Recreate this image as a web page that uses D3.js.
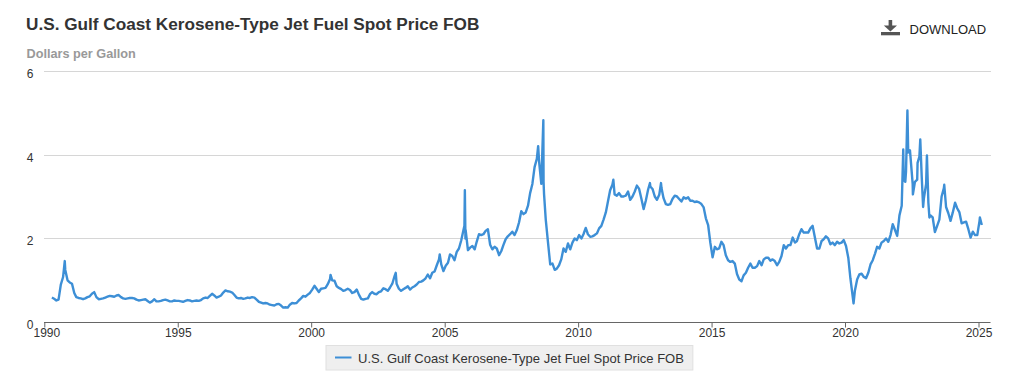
<!DOCTYPE html>
<html>
<head>
<meta charset="utf-8">
<script src="https://cdn.jsdelivr.net/npm/d3@7"></script>
<style>
  body { margin: 0; background: #fff; }
  svg { display: block; font-family: "Liberation Sans", Arial, Helvetica, sans-serif; }
</style>
</head>
<body>
<div id="chart"></div>
<script>
// monthly spot prices ($/gal), mid-month, starting April 1990
var firstMonth = "1990-04";
var monthlyPrices = [
  0.59, 0.56, 0.52, 0.54, 0.90, 1.08, 1.25, 1.00, 0.95,                 // 1990
  0.92, 0.70, 0.60, 0.58, 0.57, 0.55, 0.57, 0.60, 0.62, 0.68, 0.72, 0.60, // 1991
  0.55, 0.56, 0.57, 0.59, 0.61, 0.63, 0.62, 0.61, 0.64, 0.65, 0.60, 0.57, // 1992
  0.56, 0.57, 0.58, 0.58, 0.57, 0.54, 0.52, 0.53, 0.54, 0.55, 0.51, 0.47, // 1993
  0.50, 0.55, 0.50, 0.50, 0.51, 0.53, 0.54, 0.52, 0.50, 0.50, 0.52, 0.51, // 1994
  0.51, 0.50, 0.49, 0.51, 0.53, 0.52, 0.50, 0.51, 0.52, 0.51, 0.53, 0.57, // 1995
  0.59, 0.58, 0.63, 0.68, 0.64, 0.59, 0.61, 0.64, 0.71, 0.76, 0.74, 0.73, // 1996
  0.71, 0.65, 0.59, 0.57, 0.58, 0.56, 0.57, 0.59, 0.58, 0.60, 0.59, 0.54, // 1997
  0.49, 0.47, 0.45, 0.46, 0.45, 0.42, 0.41, 0.40, 0.43, 0.44, 0.40, 0.35, // 1998
  0.36, 0.35, 0.42, 0.46, 0.45, 0.46, 0.52, 0.57, 0.63, 0.61, 0.66, 0.70, // 1999
  0.78, 0.87, 0.80, 0.72, 0.80, 0.81, 0.82, 0.91, 1.03, 1.00, 0.99, 0.86, // 2000
  0.82, 0.79, 0.75, 0.77, 0.80, 0.77, 0.70, 0.72, 0.78, 0.66, 0.56, 0.54, // 2001
  0.56, 0.57, 0.67, 0.72, 0.68, 0.67, 0.72, 0.74, 0.81, 0.79, 0.75, 0.83, // 2002
  0.92, 1.10, 0.92, 0.80, 0.75, 0.79, 0.82, 0.86, 0.78, 0.83, 0.86, 0.90, // 2003
  0.96, 0.97, 1.00, 1.05, 1.14, 1.05, 1.18, 1.21, 1.36, 1.50, 1.38, 1.22, // 2004
  1.35, 1.42, 1.62, 1.58, 1.48, 1.68, 1.76, 1.95, 2.20, 2.20, 1.72, 1.78, // 2005
  1.82, 1.74, 1.92, 2.10, 2.08, 2.10, 2.18, 2.22, 1.85, 1.74, 1.80, 1.76, // 2006
  1.60, 1.70, 1.84, 1.98, 2.05, 2.10, 2.16, 2.08, 2.20, 2.38, 2.65, 2.58, // 2007
  2.62, 2.78, 3.08, 3.30, 3.70, 3.90, 3.85, 3.30, 3.35, 2.45, 1.90, 1.38, // 2008
  1.40, 1.25, 1.28, 1.36, 1.50, 1.76, 1.68, 1.88, 1.74, 1.90, 2.00, 1.96, // 2009
  2.08, 2.00, 2.10, 2.25, 2.10, 2.04, 2.05, 2.08, 2.12, 2.24, 2.30, 2.45, // 2010
  2.62, 2.90, 3.15, 3.28, 3.05, 3.02, 3.08, 3.00, 3.00, 3.02, 3.12, 2.92, // 2011
  3.00, 3.12, 3.26, 3.18, 2.95, 2.70, 2.90, 3.16, 3.24, 3.18, 3.00, 2.92, // 2012
  3.04, 3.20, 2.96, 2.82, 2.80, 2.82, 2.94, 3.02, 3.00, 2.94, 2.88, 2.98, // 2013
  2.95, 2.98, 2.90, 2.90, 2.87, 2.88, 2.86, 2.82, 2.74, 2.48, 2.32, 1.90, // 2014
  1.55, 1.80, 1.74, 1.76, 1.92, 1.84, 1.60, 1.48, 1.44, 1.46, 1.40, 1.15, // 2015
  1.02, 0.98, 1.12, 1.18, 1.30, 1.40, 1.30, 1.30, 1.34, 1.46, 1.36, 1.50, // 2016
  1.54, 1.54, 1.47, 1.50, 1.46, 1.36, 1.44, 1.58, 1.84, 1.76, 1.84, 1.84, // 2017
  2.02, 1.90, 1.94, 2.10, 2.22, 2.14, 2.14, 2.14, 2.24, 2.30, 2.02, 1.76, // 2018
  1.76, 1.94, 1.98, 2.05, 2.00, 1.86, 1.90, 1.84, 1.92, 1.88, 1.90, 1.96, // 2019
  1.82, 1.54, 1.05, 0.62, 0.75, 1.02, 1.14, 1.16, 1.08, 1.05, 1.18, 1.38, // 2020
  1.48, 1.64, 1.80, 1.76, 1.90, 1.94, 2.00, 1.92, 2.08, 2.34, 2.20, 2.06, // 2021
  2.55, 2.78, 3.40, 3.60, 4.05, 3.95, 3.30, 3.35, 3.40, 3.95, 3.50, 2.95, // 2022
  3.30, 2.85, 2.55, 2.50, 2.15, 2.30, 2.45, 3.00, 3.20, 2.75, 2.60, 2.42, // 2023
  2.62, 2.85, 2.72, 2.62, 2.36, 2.38, 2.40, 2.22, 2.02, 2.16, 2.08, 2.08, // 2024
  2.42, 2.32                                                              // 2025
];

// daily highs/lows that stand out from the monthly line
var spikeDates = ["1990-10-08", "2000-09-22", "2003-03-03", "2004-10-25", "2005-09-28",
  "2005-10-04", "2005-10-12", "2008-07-03", "2008-09-12", "2008-09-22", "2011-04-28",
  "2012-09-10", "2013-02-08", "2020-04-27", "2022-03-08", "2022-04-05", "2022-05-04",
  "2022-06-08", "2022-07-18", "2022-09-20", "2022-10-27", "2022-12-05", "2023-01-26",
  "2023-03-01", "2023-09-20", "2025-01-20"];
var spikePrices = [1.46, 1.13, 1.18, 1.62, 2.30,
  3.15, 2.00, 4.20, 4.82, 3.05, 3.40,
  3.32, 3.32, 0.45, 4.12, 3.35, 5.05,
  4.10, 3.05, 3.80, 4.36, 2.75, 3.98,
  2.50, 3.28, 2.50];

var yTicks = [0, 2, 4, 6];
var xTickYears = [1990, 1995, 2000, 2005, 2010, 2015, 2020, 2025];

var title = "U.S. Gulf Coast Kerosene-Type Jet Fuel Spot Price FOB";
var unitLabel = "Dollars per Gallon";
var seriesName = "U.S. Gulf Coast Kerosene-Type Jet Fuel Spot Price FOB";

var W = 1024, H = 389;
var lineColor = "#3d8fd6";
var parseDay = d3.timeParse("%Y-%m-%d");
var parseMonth = d3.timeParse("%Y-%m");

var data = [];
var m0 = parseMonth(firstMonth);
monthlyPrices.forEach(function(v, i) {
  var d = d3.timeMonth.offset(m0, i);
  data.push({date: d3.timeDay.offset(d, 14), val: v});
});
spikeDates.forEach(function(s, i) {
  data.push({date: parseDay(s), val: spikePrices[i]});
});
data.sort(function(a, b) { return a.date - b.date; });

var svg = d3.select("#chart").append("svg")
  .attr("width", W).attr("height", H);

var x = d3.scaleTime()
  .domain([new Date(1990, 0, 1), new Date(2025, 5, 14)])
  .range([44.3, 990.5]);
var y = d3.scaleLinear().domain([0, 6]).range([322.3, 70.7]);

// title + unit
svg.append("text")
  .attr("x", 26).attr("y", 30)
  .attr("font-size", 17.2).attr("font-weight", "bold").attr("fill", "#333")
  .text(title);
svg.append("text")
  .attr("x", 26.5).attr("y", 57.5)
  .attr("font-size", 12.7).attr("font-weight", "bold").attr("fill", "#999")
  .text(unitLabel);

// download button
var dl = svg.append("g").attr("fill", "#555");
dl.append("rect").attr("x", 888.6).attr("y", 20).attr("width", 3.6).attr("height", 7);
dl.append("path").attr("d", "M883.8,25.5 L897,25.5 L890.4,31.5 Z");
dl.append("rect").attr("x", 881).attr("y", 32).attr("width", 19).attr("height", 3.3);
svg.append("text")
  .attr("x", 909.5).attr("y", 34)
  .attr("font-size", 13).attr("fill", "#222")
  .text("DOWNLOAD");

// gridlines
svg.append("g").selectAll("line")
  .data(yTicks.filter(function(d) { return d > 0; }))
  .enter().append("line")
    .attr("x1", 44).attr("x2", 991)
    .attr("y1", function(d) { return Math.round(y(d)) + 0.5; })
    .attr("y2", function(d) { return Math.round(y(d)) + 0.5; })
    .attr("stroke", "#d6d6d6").attr("stroke-width", 1.2);

// y labels
svg.append("g").selectAll("text")
  .data(yTicks)
  .enter().append("text")
    .attr("x", 33.5)
    .attr("y", function(d) { return y(d) + 7; })
    .attr("text-anchor", "end")
    .attr("font-size", 12).attr("fill", "#333")
    .text(function(d) { return d; });

// x axis
var xAxis = svg.append("g")
  .attr("transform", "translate(0," + (Math.round(y(0)) + 0.5) + ")")
  .call(d3.axisBottom(x)
    .tickValues(xTickYears.map(function(yr) { return new Date(yr, 0, 1); }))
    .tickFormat(d3.timeFormat("%Y"))
    .tickSizeOuter(0)
    .tickSize(5));
xAxis.select(".domain").attr("stroke", "#666").attr("d", "M44,0H990.5");
xAxis.selectAll(".tick line").attr("stroke", "#666");
xAxis.selectAll(".tick text")
  .attr("font-family", "Liberation Sans, Arial, sans-serif")
  .attr("font-size", 12).attr("fill", "#333").attr("y", 6).attr("dy", "0.71em")
  .attr("dx", function(d, i) { return i === 0 ? 2 : 0; });

// price line
var line = d3.line()
  .x(function(d) { return x(d.date); })
  .y(function(d) { return y(d.val); });
svg.append("path")
  .datum(data)
  .attr("d", line)
  .attr("fill", "none")
  .attr("stroke", lineColor)
  .attr("stroke-width", 2.4)
  .attr("stroke-linejoin", "round");

// legend
var leg = svg.append("g");
var legBox = leg.append("rect")
  .attr("fill", "#efefef").attr("stroke", "#e0e0e0");
leg.append("line")
  .attr("x1", 335).attr("x2", 351.5).attr("y1", 357.5).attr("y2", 357.5)
  .attr("stroke", lineColor).attr("stroke-width", 2);
var legText = leg.append("text")
  .attr("x", 358).attr("y", 362.5)
  .attr("font-size", 13).attr("fill", "#333")
  .text(seriesName);
var tw = legText.node().getComputedTextLength();
legBox.attr("x", 326).attr("y", 345.5).attr("width", 358 + tw + 9 - 326).attr("height", 24.5);
</script>
</body>
</html>
